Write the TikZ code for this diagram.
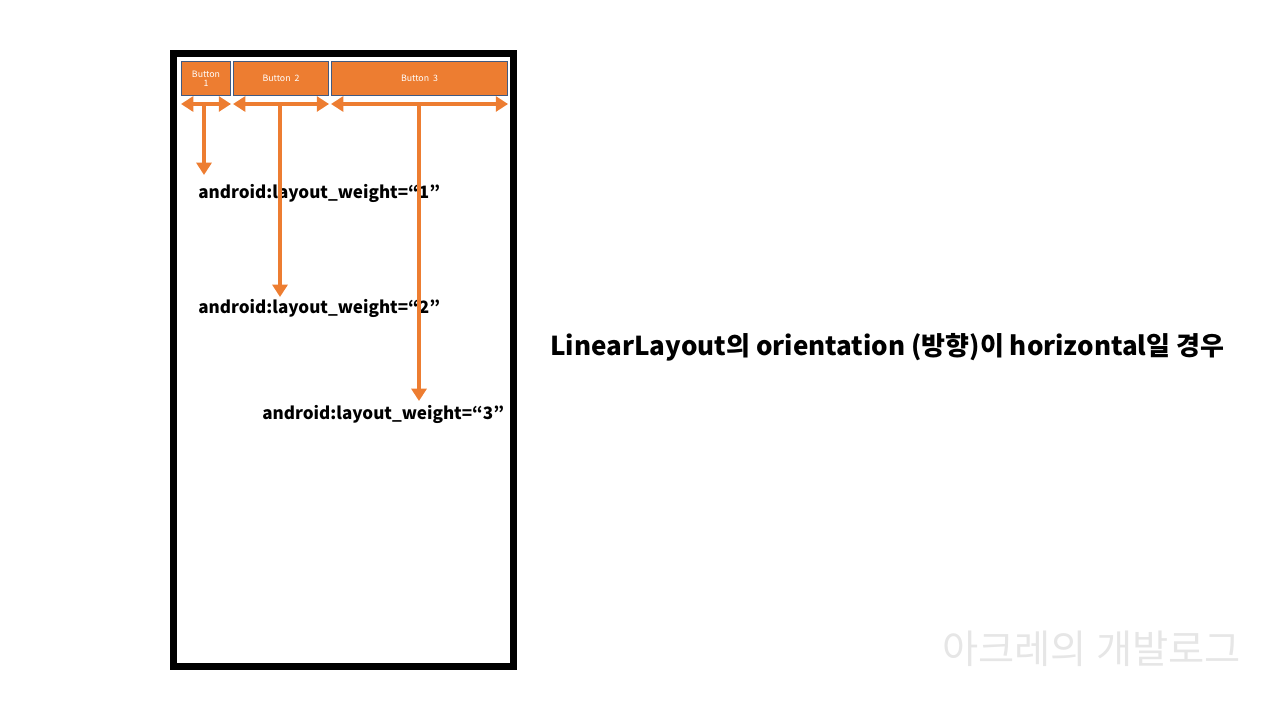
\documentclass[tikz,border=0pt]{standalone}
\usepackage{xcolor}
\definecolor{btnorange}{RGB}{237,125,49}
\definecolor{btnedge}{RGB}{65,90,130}
\definecolor{markgray}{RGB}{230,230,230}
\usepackage{fontspec}
\setmainfont{Noto Sans CJK KR}
\usepackage{tikz}
\usetikzlibrary{arrows.meta}

\tikzset{
  btn/.style={draw=btnedge, line width=0.6pt, fill=btnorange, text=white,
    anchor=north west, inner sep=0pt, align=center, font=\fontsize{5}{5.4}\selectfont},
  span/.style={btnorange, line width=1.8pt, {Triangle[length=7pt,width=8.5pt]}-{Triangle[length=7pt,width=8.5pt]}},
  stem/.style={btnorange, line width=1.8pt, -{Triangle[length=7pt,width=8.5pt]}},
  weight/.style={anchor=west, inner sep=0pt, font=\fontsize{9.7}{12}\bfseries\selectfont}
}

\begin{document}
\begin{tikzpicture}[x=0.02cm, y=-0.02cm]
  \useasboundingbox (0,0) rectangle (1280,720);
  % phone frame
  \draw[line width=4.2pt] (173.5,53.5) rectangle (513.5,666.5);
  % buttons
  \node[btn, minimum width=49*0.02cm, minimum height=34*0.02cm] (b1) at (181,61) {Button\\1};
  \node[btn, minimum width=95*0.02cm, minimum height=34*0.02cm] (b2) at (233,61) {Button\ \ 2};
  \node[btn, minimum width=176*0.02cm, minimum height=34*0.02cm] (b3) at (331,61) {Button\ \ 3};
  % labels
  \node[weight] (w1) at (198,193) {android:layout\_weight=“1”};
  \node[weight] (w2) at (198,308) {android:layout\_weight=“2”};
  \node[weight] (w3) at (262,414) {android:layout\_weight=“3”};
  % widths
  \coordinate (s1) at (204,104);
  \coordinate (s2) at (280,104);
  \coordinate (s3) at (419,104);
  \draw[span] (b1.south west |- s1) -- (b1.south east |- s1);
  \draw[span] (b2.south west |- s2) -- (b2.south east |- s2);
  \draw[span] (b3.south west |- s3) -- (b3.south east |- s3);
  \draw[stem] (s1) -- (204,175);
  \draw[stem] (s2) -- (280,297);
  \draw[stem] (s3) -- (419,401);
  % caption
  \node[anchor=west, inner sep=0pt, font=\fontsize{14.8}{17}\bfseries\selectfont] (cap) at (550,347)
    {LinearLayout의 orientation (방향)이 horizontal일 경우};
  \node[anchor=west, inner sep=0pt, text=markgray, font=\fontsize{22.4}{26}\selectfont] (mark) at (942,649)
    {아크레의 개발로그};
\end{tikzpicture}
\end{document}
